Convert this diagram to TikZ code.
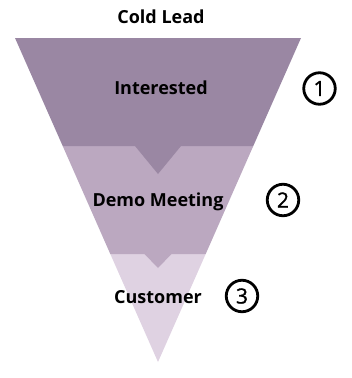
\documentclass[tikz,border=0pt]{standalone}
\usepackage{fontspec}
\setmainfont{Open Sans}
\newfontfamily\digitfont{Open Sans}[FakeBold=1.2]
\definecolor{lay1}{HTML}{9A87A3}
\definecolor{lay2}{HTML}{BBA8C0}
\definecolor{lay3}{HTML}{DFD2E2}
\begin{document}
\begin{tikzpicture}[x=1pt,y=-1pt,
  lbl/.style={font=\bfseries\fontsize{18}{20}\selectfont, text=black, inner sep=0pt},
  num/.style={circle, draw=black, line width=2.8pt, minimum size=31.5pt, inner sep=0pt, font=\digitfont\fontsize{21}{24}\selectfont}]
\useasboundingbox (0,0) rectangle (352,378);
% funnel layers
\fill[lay3] (110.3,254) -- (205.7,254) -- (158,362) -- cycle;
\fill[lay2] (62.7,146) -- (253.3,146) -- (205.7,254) -- (171.5,254) -- (158,268) -- (144.5,254) -- (110.3,254) -- cycle;
\fill[lay1] (15,38) -- (301,38) -- (253.3,146) -- (181,146) -- (158,174) -- (135,146) -- (62.7,146) -- cycle;
% labels
\node[lbl] (cold) at (161,16.5) {Cold Lead};
\node[lbl] (int) at (161,88) {Interested};
\node[lbl] (demo) at (158,202) {Demo Meeting};
\node[lbl] (cust) at (158,297) {Customer};
% numbers
\node[num] (n1) at (319.5,88.5) {1};
\node[num] (n2) at (283,200) {2};
\node[num] (n3) at (242,296) {3};
\end{tikzpicture}
\end{document}
